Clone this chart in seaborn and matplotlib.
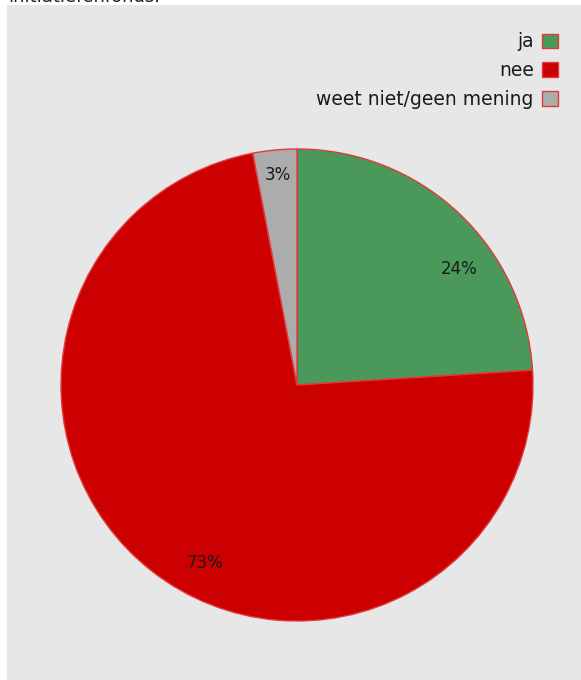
import matplotlib
matplotlib.use("Agg")
import matplotlib.pyplot as plt
from matplotlib.patches import Rectangle, Patch
import seaborn as sns

categories = ["ja", "nee", "weet niet/geen mening"]
values = [24, 73, 3]
colors = ["#4a995a", "#cc0000", "#acacac"]
label_pos = [(0.686, 0.492), (-0.39, -0.754), (-0.08, 0.89)]
cut_title = "initiatiefenfonds."

sns.set_theme(style="white")
plt.rcParams['font.family'] = ['DejaVu Sans']

W, H = 581, 680
fig = plt.figure(figsize=(W / 100, H / 100), dpi=100)
fig.patch.set_facecolor("white")
fig.patches.append(Rectangle((7 / W, 0), 1 - 7 / W, (H - 5) / H, transform=fig.transFigure,
                             facecolor="#e7e7e7", edgecolor="none", zorder=-5))
fig.text(8 / W, (H - 2) / H, cut_title, fontsize=13, color="#222222", ha="left", va="baseline")

cx, cy, r = 297, 385, 236
ax = fig.add_axes([(cx - r) / W, (H - cy - r) / H, 2 * r / W, 2 * r / H])
ax.set_zorder(2)
ax.set_facecolor("none")
wedges, texts, autotexts = ax.pie(values, colors=colors, startangle=90, counterclock=False,
                                  autopct=lambda p: f"{p:.0f}%",
                                  wedgeprops=dict(edgecolor="#e03a3a", linewidth=1),
                                  textprops=dict(fontsize=12, color="#1a1a1a"))
for t, (x, y) in zip(autotexts, label_pos):
    t.set_position((x, y))
    t.set_ha("center")
    t.set_va("center")
ax.set_xlim(-1, 1)
ax.set_ylim(-1, 1)
ax.set_aspect("auto")
ax.axis("off")

handles = [Patch(facecolor=c, edgecolor="#e03a3a", linewidth=1) for c in colors]
leg = fig.legend(handles, categories, loc="upper right", bbox_to_anchor=(567 / W, (H - 23) / H),
                 frameon=False, markerfirst=False, fontsize=13.5, handlelength=0.82,
                 handleheight=0.82, handletextpad=0.45, labelspacing=0.52, borderpad=0)
leg.set_zorder(3)
for t in leg.get_texts():
    t.set_ha("right")
    t.set_color("#1a1a1a")
leg._legend_box.align = "right"

fig.savefig("out.png", dpi=100)
